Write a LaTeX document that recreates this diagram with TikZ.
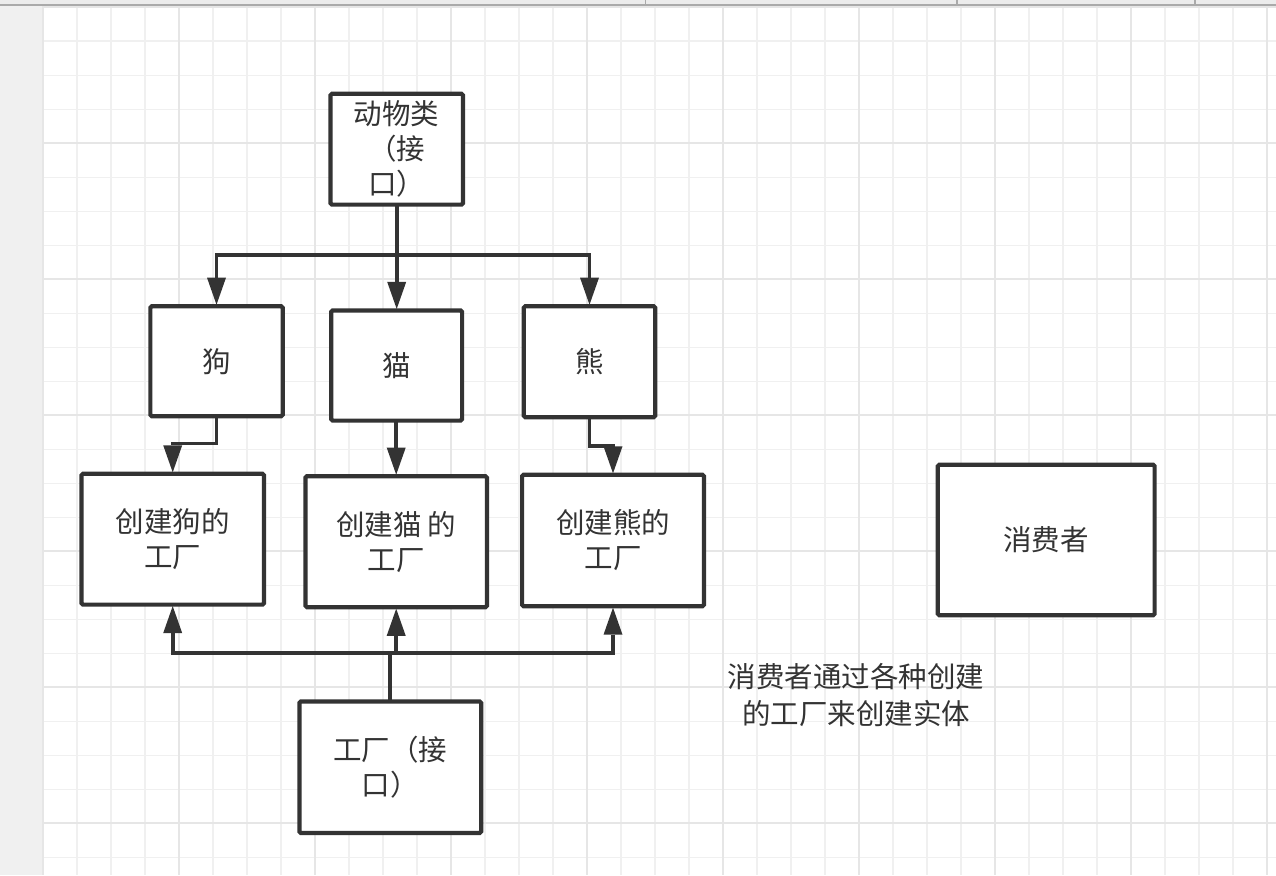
\documentclass[tikz,border=0pt]{standalone}
\usepackage{fontspec}
\setmainfont{Noto Sans CJK SC}
\usetikzlibrary{arrows.meta}
\definecolor{ink}{HTML}{333333}
\definecolor{gridminor}{HTML}{F0F0F0}
\definecolor{gridmajor}{HTML}{E6E6E6}
\definecolor{panel}{HTML}{F0F0F0}
\definecolor{topstrip}{HTML}{ECECEC}
\definecolor{topline}{HTML}{AAAAAA}
\tikzset{
  box/.style={draw=ink, line width=4.2pt, fill=white, rounded corners=1.5pt,
    inner sep=0pt, outer sep=0pt, align=center, text=ink,
    font=\fontsize{28.5}{35}\selectfont},
  freetext/.style={inner sep=0pt, align=center, text=ink,
    font=\fontsize{28.5}{36.5}\selectfont},
  conn/.style={draw=ink, line width=3.8pt},
  arr/.style={conn, -{Triangle[length=27pt,width=19pt,line width=0pt]}, shorten >=1.5pt},
  gminor/.style={draw=gridminor, line width=1.6pt},
  gmajor/.style={draw=gridmajor, line width=1.8pt},
}
\begin{document}
\begin{tikzpicture}[x=1pt,y=-1pt]
\useasboundingbox (0,0) rectangle (1276,875);
\fill[white] (0,0) rectangle (1276,875);
% grid
\foreach \i in {0,...,36} {
  \draw[gminor] ({43+34*\i},6) -- ({43+34*\i},875);
}
\foreach \j in {0,...,25} {
  \draw[gminor] (43,{7.3+34*\j}) -- (1276,{7.3+34*\j});
}
\foreach \i in {0,...,9} {
  \draw[gmajor] ({43+136*\i},6) -- ({43+136*\i},875);
}
\foreach \j in {0,...,6} {
  \draw[gmajor] (43,{7.3+136*\j}) -- (1276,{7.3+136*\j});
}
% UI frame
\fill[panel] (0,6) rectangle (42,875);
\fill[topstrip] (0,0) rectangle (1276,4);
\fill[topline] (0,4) rectangle (1276,6);
\foreach \sx in {645.7,957,1195} {
  \draw[topline, line width=1.2pt] (\sx,0) -- (\sx,5);
}
% nodes
\node[box, minimum width=132.5pt, minimum height=110.8pt] (animal) at (396.7,149.2) {动物类\\（接\\口）};
\node[box, minimum width=132.3pt, minimum height=110pt] (dog) at (216.5,361.2) {狗};
\node[box, minimum width=130.8pt, minimum height=110.2pt] (cat) at (396.7,365.5) {猫};
\node[box, minimum width=131.4pt, minimum height=111pt] (bear) at (589.5,361.7) {熊};
\node[box, minimum width=182.5pt, minimum height=130.8pt] (dogfac) at (172.7,539.2) {创建狗的\\工厂};
\node[box, minimum width=181.4pt, minimum height=131.1pt] (catfac) at (396.2,541.7) {创建猫 的\\工厂};
\node[box, minimum width=181.8pt, minimum height=131.4pt] (bearfac) at (613,540.5) {创建熊的\\工厂};
\node[box, minimum width=181.8pt, minimum height=131.5pt] (factory) at (390.3,767.2) {工厂（接\\口）};
\node[box, minimum width=216.8pt, minimum height=150.4pt] (consumer) at (1046.2,540) {消费者};
\node[freetext] (note) at (856,695) {消费者通过各种创建\\的工厂来创建实体};
% bus coordinates
\coordinate (busA) at (0,255);
\coordinate (busB) at (0,443.5);
\coordinate (busC) at (0,446);
\coordinate (busD) at (0,652.7);
% connectors
\draw[arr] (animal.south) -- (animal.south |- busA) -| (dog.north);
\draw[arr] (animal.south) -- (cat.north);
\draw[arr] (animal.south) -- (animal.south |- busA) -| (bear.north);
\draw[arr] (dog.south) -- (dog.south |- busB) -| (dogfac.north);
\draw[arr] (catfac.north |- cat.south) -- (catfac.north);
\draw[arr] (bear.south) -- (bear.south |- busC) -| (bearfac.north);
\draw[arr] (factory.north) -- (factory.north |- busD) -| (dogfac.south);
\draw[arr] (factory.north) -- (factory.north |- busD) -| (catfac.south);
\draw[arr] (factory.north) -- (factory.north |- busD) -| (bearfac.south);
\end{tikzpicture}
\end{document}
